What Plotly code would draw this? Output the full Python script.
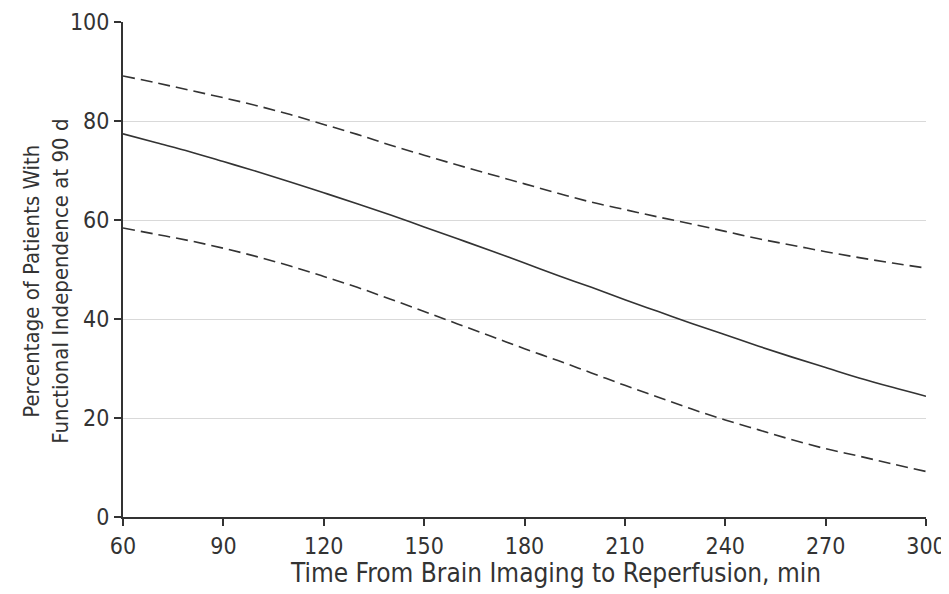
import plotly.graph_objects as go

time_min = [60, 70, 80, 90, 100, 110, 120, 130, 140, 150, 160, 170, 180,
            190, 200, 210, 220, 230, 240, 250, 260, 270, 280, 290, 300]

estimate = [77.4, 75.6, 73.8, 71.8, 69.8, 67.7, 65.5, 63.3, 61.0, 58.6, 56.2, 53.8, 51.3,
            48.8, 46.4, 43.9, 41.5, 39.1, 36.8, 34.5, 32.3, 30.2, 28.1, 26.2, 24.4]

upper_ci = [89.1, 87.7, 86.2, 84.7, 83.1, 81.3, 79.3, 77.3, 75.1, 73.1, 71.1, 69.2, 67.3,
            65.4, 63.6, 62.1, 60.6, 59.2, 57.7, 56.2, 54.9, 53.6, 52.4, 51.3, 50.3]

lower_ci = [58.4, 57.1, 55.8, 54.3, 52.6, 50.7, 48.6, 46.4, 44.0, 41.5, 39.0, 36.5, 34.0,
            31.6, 29.1, 26.6, 24.2, 21.8, 19.6, 17.6, 15.6, 13.8, 12.3, 10.7, 9.2]

x_ticks = [60, 90, 120, 150, 180, 210, 240, 270, 300]
y_ticks = [0, 20, 40, 60, 80, 100]

x_title = "Time From Brain Imaging to Reperfusion, min"
y_title = "Percentage of Patients With<br>Functional Independence at 90 d"

line_color = "#333333"
font_family = "DejaVu Sans Condensed, sans-serif"

fig = go.Figure()
fig.add_trace(go.Scatter(x=time_min, y=upper_ci, mode="lines", line_shape="spline",
                         line=dict(color=line_color, width=1.6, dash="12px,6px"),
                         showlegend=False))
fig.add_trace(go.Scatter(x=time_min, y=estimate, mode="lines", line_shape="spline",
                         line=dict(color=line_color, width=1.6),
                         showlegend=False))
fig.add_trace(go.Scatter(x=time_min, y=lower_ci, mode="lines", line_shape="spline",
                         line=dict(color=line_color, width=1.6, dash="12px,6px"),
                         showlegend=False))

fig.update_layout(
    width=941, height=586,
    margin=dict(l=115, r=23, t=14, b=77, autoexpand=False),
    paper_bgcolor="white", plot_bgcolor="white",
    font=dict(family=font_family, color="#333333", size=20),
    xaxis=dict(
        range=[60, 300], tickvals=x_ticks, ticktext=[str(v) for v in x_ticks],
        showline=True, linecolor=line_color, linewidth=2,
        ticks="outside", ticklen=7, tickwidth=2, tickcolor=line_color,
        showgrid=False, zeroline=False, automargin=False,
        tickfont=dict(size=23),
    ),
    yaxis=dict(
        range=[0, 100], tickvals=y_ticks, ticktext=[str(v) for v in y_ticks],
        showline=True, linecolor=line_color, linewidth=2,
        ticks="outside", ticklen=7, tickwidth=2, tickcolor=line_color,
        showgrid=True, gridcolor="#d9d9d9", gridwidth=1,
        zeroline=False, automargin=False,
        tickfont=dict(size=23),
    ),
    annotations=[
        dict(text=x_title, xref="paper", yref="paper", x=0.538, y=-0.113,
             xanchor="center", yanchor="middle", showarrow=False,
             font=dict(size=26, color="#333333")),
        dict(text=y_title, xref="paper", yref="paper", x=-0.096, y=0.477,
             xanchor="center", yanchor="middle", showarrow=False, textangle=-90,
             font=dict(size=22, color="#333333")),
    ],
)

fig.write_html("out.html")
